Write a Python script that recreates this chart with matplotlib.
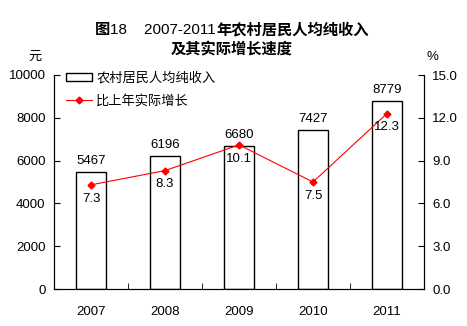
import matplotlib
matplotlib.use('Agg')
import matplotlib.pyplot as plt
import numpy as np

plt.rcParams['font.family'] = ['Liberation Sans', 'Noto Sans CJK SC', 'DejaVu Sans']

years = ['2007', '2008', '2009', '2010', '2011']
income = [5467, 6196, 6680, 7427, 8779]
growth = [7.3, 8.3, 10.1, 7.5, 12.3]
growth_labels = ['7.3', '8.3', '10.1', '7.5', '12.3']

fig = plt.figure(figsize=(4.67, 3.26), dpi=100)
ax = fig.add_axes([54 / 467, 1 - 289 / 326, 370 / 467, 214 / 326])
ax2 = ax.twinx()

x = np.arange(len(years))
bars = ax.bar(x, income, width=0.4, color='white', edgecolor='black', linewidth=1.0,
              label='农村居民人均纯收入')
ax.set_xlim(-0.5, 4.5)
ax.set_ylim(0, 10000)
ax.set_yticks(range(0, 10001, 2000))
ax.set_xticks(x)
ax.set_xticklabels(years)
ax.set_xticks(np.arange(-0.5, 5, 1), minor=True)
ax.tick_params(axis='x', which='major', length=0, pad=12, labelsize=9.5)
ax.tick_params(axis='x', which='minor', direction='in', length=4)
ax.tick_params(axis='y', direction='in', length=4, labelsize=9.5, pad=6)
ax.spines['top'].set_visible(False)

for xi, v in zip(x, income):
    ax.text(xi, v + 250, str(v), ha='center', va='bottom', fontsize=9.5)

line, = ax2.plot(x, growth, color='red', linewidth=0.8, marker='D', markersize=3.5,
                 label='比上年实际增长')
ax2.set_ylim(0, 15)
ax2.set_yticks(np.arange(0, 15.1, 3))
ax2.set_yticklabels([f'{t:.1f}' for t in np.arange(0, 15.1, 3)])
ax2.tick_params(axis='y', direction='in', length=4, labelsize=9.5, pad=6)
ax2.spines['top'].set_visible(False)

for xi, v, s in zip(x, growth, growth_labels):
    ax2.text(xi, v - 0.55, s, ha='center', va='top', fontsize=9.5)

fig.text(35 / 467, 1 - 57 / 326, '元', fontsize=9.5, ha='center', va='center')
fig.text(432 / 467, 1 - 57 / 326, '%', fontsize=9.5, ha='center', va='center')

leg = ax.legend([bars, line], ['农村居民人均纯收入', '比上年实际增长'], loc='upper left',
                bbox_to_anchor=(0.0, 1.07), frameon=False, fontsize=9.5,
                handlelength=2.0, handleheight=0.55, handletextpad=0.3, labelspacing=0.75)

# title, mixed bold/regular pieces
fig.canvas.draw()
renderer = fig.canvas.get_renderer()
pieces = [('图', 'bold'), ('18    2007-2011', 'normal'), ('年农村居民人均纯收入', 'bold')]
texts = []
for s, w in pieces:
    t = fig.text(0, 1 - 30 / 326, s, fontsize=11, fontweight=w, va='center', ha='left')
    texts.append(t)
widths = [t.get_window_extent(renderer).width for t in texts]
total = sum(widths)
start = 232 - total / 2
for t, w in zip(texts, widths):
    t.set_x(start / 467)
    start += w
fig.text(232 / 467, 1 - 50 / 326, '及其实际增长速度', fontsize=11, fontweight='bold',
         ha='center', va='center')

fig.savefig('out.png', dpi=100)
